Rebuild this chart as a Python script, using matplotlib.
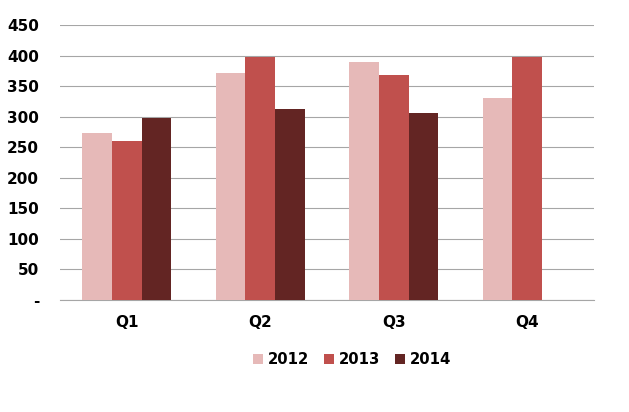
import matplotlib
matplotlib.use("Agg")
import matplotlib.pyplot as plt
import numpy as np

categories = ["Q1", "Q2", "Q3", "Q4"]
years = ["2012", "2013", "2014"]
v2012 = [274, 372, 390, 330]
v2013 = [261, 397, 368, 398]
v2014 = [298, 313, 306, None]
colors = ["#E6B9B8", "#C0504D", "#632523"]
yticks = [0, 50, 100, 150, 200, 250, 300, 350, 400, 450]
ytick_labels = ["-", "50", "100", "150", "200", "250", "300", "350", "400", "450"]

fig = plt.figure(figsize=(6.29, 4.12), dpi=100)
ax = fig.add_axes([0.0954, 0.272, 0.849, 0.667])

x = np.arange(len(categories))
w = 0.222
series = [v2012, v2013, v2014]
for i, (vals, c, lab) in enumerate(zip(series, colors, years)):
    xs = [xi + (i - 1) * w for xi, v in zip(x, vals) if v is not None]
    vs = [v for v in vals if v is not None]
    ax.bar(xs, vs, width=w, color=c, label=lab, zorder=3)

ax.set_xlim(-0.5, len(categories) - 0.5)
ax.set_ylim(0, 450)
ax.set_yticks(yticks)
ax.set_yticklabels(ytick_labels)
ax.set_xticks(x)
ax.set_xticklabels(categories)
ax.grid(axis="y", color="#A6A6A6", linewidth=0.8, zorder=0)
for s in ["top", "right", "left"]:
    ax.spines[s].set_visible(False)
ax.spines["bottom"].set_color("#A6A6A6")
ax.spines["bottom"].set_linewidth(0.8)
ax.tick_params(axis="both", length=0, labelsize=11, colors="black")
ax.tick_params(axis="y", pad=15)
ax.tick_params(axis="x", pad=11)
for t in ax.get_xticklabels() + ax.get_yticklabels():
    t.set_fontweight("bold")

leg = fig.legend(loc="center", bbox_to_anchor=(0.56, 0.128), ncol=3, frameon=False,
                 prop={"weight": "bold", "size": 10.7}, handlelength=0.65, handleheight=0.65,
                 handletextpad=0.35, columnspacing=1.0)
fig.savefig("out.png", dpi=100)
